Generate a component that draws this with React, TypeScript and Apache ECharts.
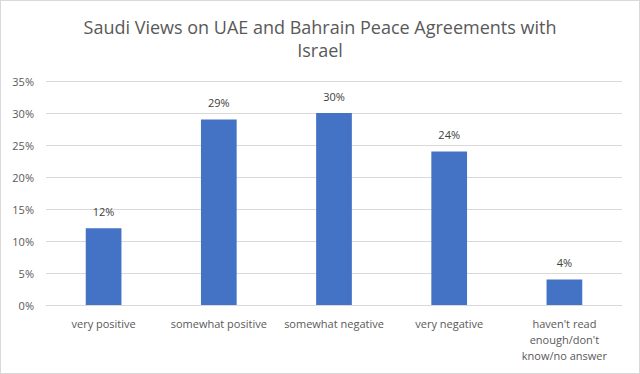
import React, { useEffect, useRef } from "react";
import * as echarts from "echarts";

const categories = [
  "very positive",
  "somewhat positive",
  "somewhat negative",
  "very negative",
  "haven't read\nenough/don't\nknow/no answer",
];
const values = [12, 29, 30, 24, 4];
const titleText = "Saudi Views on UAE and Bahrain Peace Agreements with\nIsrael";

export default function App() {
  const ref = useRef<HTMLDivElement>(null);
  useEffect(() => {
    document.body.style.margin = "0";
    const chart = echarts.init(ref.current!, null, { renderer: "svg" });
    const font = "'Open Sans', sans-serif";
    chart.setOption({
      animation: false,
      backgroundColor: "#ffffff",
      title: {
        text: titleText,
        left: "center",
        top: 9,
        textStyle: {
          fontFamily: font,
          fontSize: 18,
          fontWeight: "normal",
          color: "#595959",
          lineHeight: 23,
        },
      },
      grid: { left: 45, right: 17, top: 80, bottom: 68, containLabel: false },
      xAxis: {
        type: "category",
        data: categories,
        axisLine: { lineStyle: { color: "#d9d9d9" } },
        axisTick: { show: false },
        axisLabel: {
          color: "#595959",
          fontFamily: font,
          fontSize: 11,
          lineHeight: 16,
          margin: 10,
          interval: 0,
        },
      },
      yAxis: {
        type: "value",
        min: 0,
        max: 35,
        interval: 5,
        axisLine: { show: false },
        axisTick: { show: false },
        splitLine: { lineStyle: { color: "#d9d9d9" } },
        axisLabel: {
          formatter: "{value}%",
          color: "#595959",
          fontFamily: font,
          fontSize: 11,
          margin: 12,
        },
      },
      series: [
        {
          type: "bar",
          data: values,
          barWidth: "31%",
          itemStyle: { color: "#4472C4" },
          label: {
            show: true,
            position: "top",
            distance: 11,
            formatter: "{c}%",
            color: "#404040",
            fontFamily: font,
            fontSize: 11,
          },
        },
      ],
    });
    return () => chart.dispose();
  }, []);
  return (
    <div
      ref={ref}
      style={{
        width: 640,
        height: 374,
        boxSizing: "border-box",
        border: "1px solid #d9d9d9",
      }}
    />
  );
}
